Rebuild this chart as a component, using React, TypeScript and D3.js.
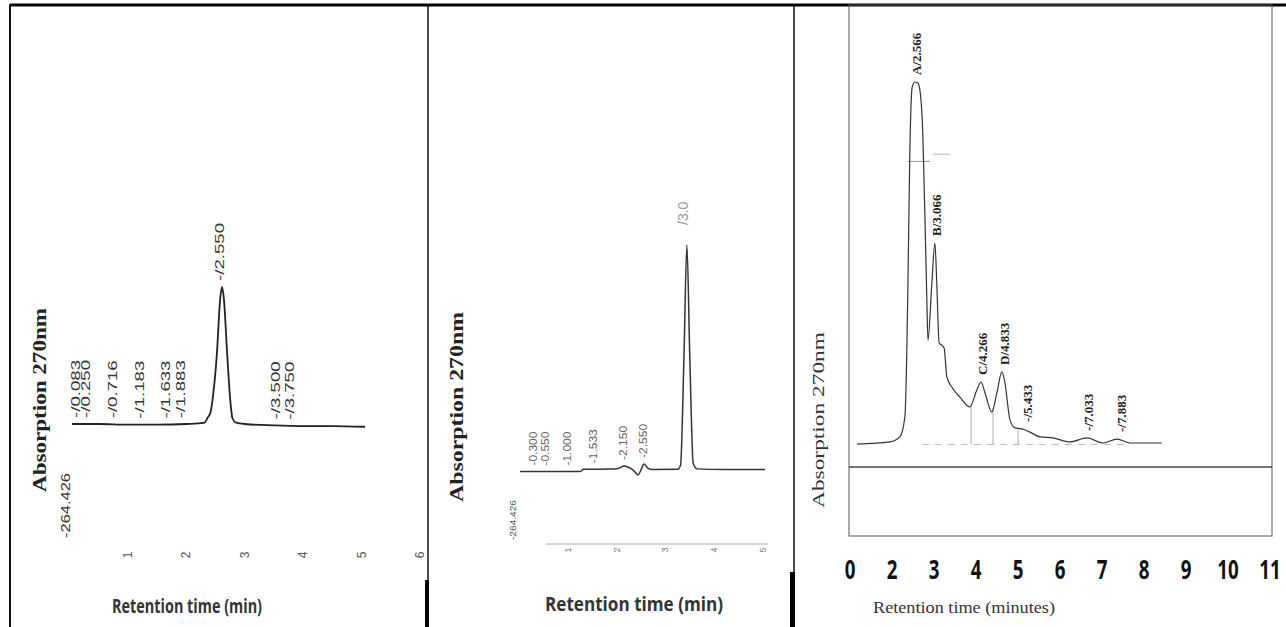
import * as d3 from "d3";

// ---- panel 1 (left chromatogram) ----
const p1Times = [0.04, 0.5, 1.0, 1.5, 2.0, 2.3, 2.37, 2.41, 2.46, 2.52, 2.58, 2.61, 2.64, 2.7, 2.75, 2.79, 2.85, 3.0, 3.5, 4.0, 4.5, 5.06];
const p1Signal = [0, 0, -0.5, -0.5, 0, 0.8, 5, 8, 22, 50, 92, 100, 92, 50, 18, 4, 1, 0, -1, -1.5, -1.5, -2];
const p1PeakTimes = [0.083, 0.25, 0.716, 1.183, 1.633, 1.883, 2.55, 3.5, 3.75];
const p1PeakLabels = ["-/0.083", "-/0.250", "-/0.716", "-/1.183", "-/1.633", "-/1.883", "-/2.550", "-/3.500", "-/3.750"];
const p1Ticks = [1, 2, 3, 4, 5, 6];
const p1MinLabel = "-264.426";

// ---- panel 2 (middle chromatogram) ----
const p2Times = [0.02, 1.25, 1.32, 1.9, 2.05, 2.15, 2.28, 2.36, 2.44, 2.5, 2.56, 2.64, 2.72, 3.25, 3.31, 3.38, 3.44, 3.5, 3.57, 3.65, 4.2, 5.04];
const p2Signal = [-0.7, -0.7, 0.3, 0.4, 0.8, 1.8, 0.8, -0.5, -2.2, 0, 2.7, 0.8, 0.2, 0.3, 2, 50, 100, 50, 3, 0.5, 0.2, 0.2];
const p2PeakTimes = [0.3, 0.55, 1.0, 1.533, 2.15, 2.55];
const p2PeakLabels = ["-0.300", "-0.550", "-1.000", "-1.533", "-2.150", "-2.550"];
const p2MainLabel = "/3.0";
const p2Ticks = [1, 2, 3, 4, 5];
const p2MinLabel = "-264.426";

// ---- panel 3 (right chromatogram) ----
const p3Times = [1.12, 1.97, 2.23, 2.36, 2.41, 2.44, 2.49, 2.55, 2.62, 2.7, 2.77, 2.81, 2.88, 2.93, 2.96, 3.06, 3.14, 3.19, 3.25, 3.32, 3.38, 3.45, 3.58, 3.79, 4.05, 4.23, 4.34, 4.44, 4.62, 4.75, 4.88, 4.96, 5.09, 5.22, 5.4, 5.61, 5.87, 6.21, 6.65, 7.09, 7.51, 7.87, 8.21, 9.04];
const p3Signal = [-0.3, 0.3, 1.7, 7.2, 25, 44, 81, 98.6, 100, 99.7, 96, 90, 63, 40, 28.5, 44, 55.4, 44, 27.7, 27.1, 26.3, 18.3, 15.5, 12.7, 10, 14.7, 16.9, 13.9, 8.6, 13.9, 19.7, 16.6, 6.4, 4.2, 3.9, 3.0, 1.7, 1.4, 0.3, 1.4, 0, 1.1, 0, 0];
const p3PeakTimes = [2.566, 3.066, 4.266, 4.833, 5.433, 7.033, 7.883];
const p3PeakLabels = ["A/2.566", "B/3.066", "C/4.266", "D/4.833", "-/5.433", "-/7.033", "-/7.883"];
const p3TickLabels = ["0", "2", "3", "4", "5", "6", "7", "8", "9", "10", "11"];
const p3DropTimes = [4.08, 4.65, 5.3];

const SANS = "'Liberation Sans', Arial, sans-serif";
const SERIF = "'Liberation Serif', 'Times New Roman', serif";

function signalNear(times: number[], sig: number[], t: number, w: number) {
  let m = -Infinity;
  times.forEach((tt, i) => {
    if (Math.abs(tt - t) <= w) m = Math.max(m, sig[i]);
  });
  const i = d3.bisectLeft(times, t);
  if (i > 0 && i < times.length) {
    const f = (t - times[i - 1]) / (times[i] - times[i - 1]);
    m = Math.max(m, sig[i - 1] + f * (sig[i] - sig[i - 1]));
  }
  return m === -Infinity ? 0 : m;
}

function VText({ x, y, text, size, fill, family, weight, len, anchor = "start", opacity = 1 }: any) {
  return (
    <text
      transform={`translate(${x},${y}) rotate(-90)`}
      textAnchor={anchor}
      dominantBaseline="central"
      fontSize={size}
      fill={fill}
      fontFamily={family}
      fontWeight={weight}
      textLength={len}
      lengthAdjust={len ? "spacingAndGlyphs" : undefined}
      opacity={opacity}
    >
      {text}
    </text>
  );
}

function makeLine(x: d3.ScaleLinear<number, number>, y: d3.ScaleLinear<number, number>, times: number[], sig: number[]) {
  const line = d3
    .line<number>()
    .x((_, i) => x(times[i]))
    .y((d) => y(d))
    .curve(d3.curveMonotoneX);
  return line(sig) || "";
}

export default function App() {
  // panel 1 scales
  const x1 = d3.scaleLinear().domain([0, 6]).range([69.6, 420]);
  const y1 = d3.scaleLinear().domain([0, 100]).range([424, 287]);
  // panel 2 scales
  const x2 = d3.scaleLinear().domain([0, 5]).range([519, 763]);
  const y2 = d3.scaleLinear().domain([0, 100]).range([470, 245]);
  // panel 3 scales
  const x3 = d3.scaleLinear().domain([0, 9]).range([814, 1160.5]);
  const y3 = d3.scaleLinear().domain([0, 100]).range([443, 82]);
  const t3 = d3.scalePoint<string>().domain(p3TickLabels).range([850, 1270]);

  const p2Max = d3.maxIndex(p2Signal);

  return (
    <svg
      width={1286}
      height={627}
      style={{ position: "fixed", left: 0, top: 0, background: "#fff" }}
    >
      <rect x={0} y={0} width={1286} height={627} fill="#fff" />

      {/* outer borders and dividers */}
      <line x1={10} x2={1286} y1={5} y2={5} stroke="#000" strokeWidth={3} />
      <line x1={10} x2={10} y1={4} y2={627} stroke="#111" strokeWidth={2} />
      <line x1={428} x2={428} y1={4} y2={627} stroke="#111" strokeWidth={1.5} />
      <rect x={425} y={580} width={4} height={47} fill="#000" />
      <line x1={794} x2={794} y1={4} y2={627} stroke="#111" strokeWidth={1.5} />
      <rect x={790} y={572} width={5} height={55} fill="#000" />

      {/* ===== panel 1 ===== */}
      <path d={makeLine(x1, y1, p1Times, p1Signal)} fill="none" stroke="#222" strokeWidth={1.8} />
      {p1PeakTimes.map((t, i) => (
        <VText
          key={"l1" + i}
          x={x1(t) + 1}
          y={y1(signalNear(p1Times, p1Signal, t, 0.1)) - 6}
          text={p1PeakLabels[i]}
          size={13}
          fill="#333"
          family={SANS}
          len={58}
        />
      ))}
      {p1Ticks.map((t) => (
        <VText key={"t1" + t} x={x1(t)} y={555} text={String(t)} size={12} fill="#555" family={SANS} anchor="middle" />
      ))}
      <VText x={65} y={538} text={p1MinLabel} size={13} fill="#333" family={SANS} len={65} />
      <VText x={40} y={400} text="Absorption 270nm" size={18} fill="#222" family={SERIF} weight="bold" len={184} anchor="middle" />
      <text x={187} y={613} textAnchor="middle" fontSize={19} fontWeight="bold" fill="#333" fontFamily="'Open Sans', sans-serif" textLength={150} lengthAdjust="spacingAndGlyphs">
        Retention time (min)
      </text>

      {/* ===== panel 2 ===== */}
      <line x1={x2(0.55)} x2={x2(5.1)} y1={544} y2={544} stroke="#aaa" strokeWidth={1} />
      <path d={makeLine(x2, y2, p2Times, p2Signal)} fill="none" stroke="#333" strokeWidth={1.5} />
      {p2PeakTimes.map((t, i) => (
        <VText
          key={"l2" + i}
          x={x2(t)}
          y={y2(signalNear(p2Times, p2Signal, t, 0.08)) - 6}
          text={p2PeakLabels[i]}
          size={10}
          fill="#666"
          family={SANS}
          len={34}
        />
      ))}
      <VText x={x2(p2Times[p2Max]) - 4} y={y2(p2Signal[p2Max]) - 20} text={p2MainLabel} size={14} fill="#999" family={SANS} />
      {p2Ticks.map((t) => (
        <VText key={"t2" + t} x={x2(t)} y={550} text={String(t)} size={9} fill="#777" family={SANS} anchor="middle" />
      ))}
      <VText x={513} y={540} text={p2MinLabel} size={9} fill="#555" family={SANS} len={40} />
      <VText x={457} y={407} text="Absorption 270nm" size={18} fill="#222" family={SERIF} weight="bold" len={190} anchor="middle" />
      <text x={634} y={611} textAnchor="middle" fontSize={20} fontWeight="bold" fill="#333" fontFamily="'Open Sans', sans-serif" textLength={178} lengthAdjust="spacingAndGlyphs">
        Retention time (min)
      </text>

      {/* ===== panel 3 ===== */}
      <rect x={849} y={5} width={423} height={531} fill="none" stroke="#555" strokeWidth={1} />
      <line x1={849} x2={1272} y1={467} y2={467} stroke="#444" strokeWidth={1.6} />
      <line x1={x3(2.8)} x2={x3(8.2)} y1={y3(-0.4)} y2={y3(-0.4)} stroke="#bbb" strokeWidth={1} strokeDasharray="7,6" />
      {p3DropTimes.map((t, i) => (
        <line
          key={"d3" + i}
          x1={x3(t)}
          x2={x3(t)}
          y1={y3(signalNear(p3Times, p3Signal, t, 0))}
          y2={y3(-0.4)}
          stroke="#aaa"
          strokeWidth={1}
        />
      ))}
      <line x1={x3(2.44)} x2={x3(3.01)} y1={y3(78)} y2={y3(78)} stroke="#999" strokeWidth={1} />
      <line x1={x3(3.09)} x2={x3(3.53)} y1={y3(80)} y2={y3(80)} stroke="#bbb" strokeWidth={1} />
      <path d={makeLine(x3, y3, p3Times, p3Signal)} fill="none" stroke="#333" strokeWidth={1.2} />
      {p3PeakTimes.map((t, i) => (
        <VText
          key={"l3" + i}
          x={x3(t) + 4}
          y={y3(signalNear(p3Times, p3Signal, t, 0.12)) - 7}
          text={p3PeakLabels[i]}
          size={13}
          fill="#222"
          family={SERIF}
          weight="bold"
        />
      ))}
      {p3TickLabels.map((l) => (
        <text
          key={"t3" + l}
          transform={`translate(${t3(l)},579) scale(0.72,1)`}
          textAnchor="middle"
          fontSize={26}
          fontWeight="bold"
          fill="#111"
          fontFamily="'Open Sans', sans-serif"
        >
          {l}
        </text>
      ))}
      <VText x={818} y={420} text="Absorption 270nm" size={17} fill="#333" family={SERIF} len={176} anchor="middle" />
      <text x={964} y={613} textAnchor="middle" fontSize={16} fill="#333" fontFamily={SERIF} textLength={182} lengthAdjust="spacingAndGlyphs">
        Retention time (minutes)
      </text>
    </svg>
  );
}
